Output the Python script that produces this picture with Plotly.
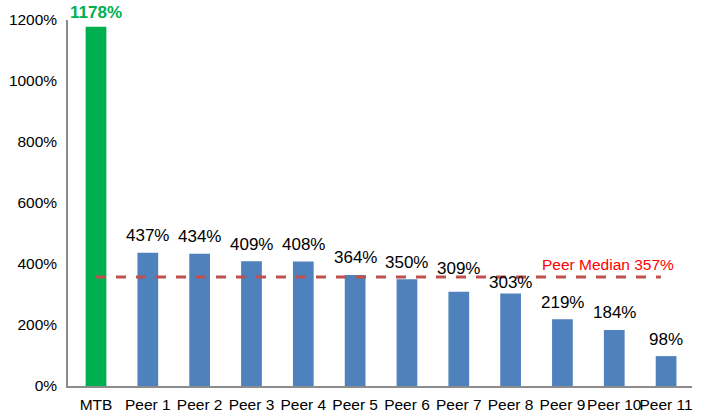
import plotly.graph_objects as go

categories = ["MTB", "Peer 1", "Peer 2", "Peer 3", "Peer 4", "Peer 5", "Peer 6",
              "Peer 7", "Peer 8", "Peer 9", "Peer 10", "Peer 11"]
values = [1178, 437, 434, 409, 408, 364, 350, 309, 303, 219, 184, 98]
peer_median = 357
tick_vals = [0, 200, 400, 600, 800, 1000, 1200]
tick_text = ["0%", "200%", "400%", "600%", "800%", "1000%", "1200%"]

GREEN = "#00B050"
BLUE = "#4F81BD"
colors = [GREEN] + [BLUE] * (len(categories) - 1)
label_extra_shift = {"Peer 7": 6, "Peer 8": -6}

fig = go.Figure()
fig.add_trace(go.Bar(x=categories, y=values, marker=dict(color=colors, line=dict(width=0)),
                     hoverinfo="skip"))

for c, v in zip(categories, values):
    is_mtb = c == "MTB"
    fig.add_annotation(
        x=c, y=v, xref="x", yref="y", text=f"{v}%", showarrow=False,
        yanchor="middle", yshift=(14 if is_mtb else 17) + label_extra_shift.get(c, 0),
        font=dict(family="Liberation Sans, Arial", size=17,
                  color=GREEN if is_mtb else "#000000",
                  weight="bold" if is_mtb else "normal"),
    )

fig.add_shape(type="line", xref="x", yref="y", x0=0, x1=10.9, y0=peer_median, y1=peer_median,
              line=dict(color="#C0504D", width=3, dash="10px,10px"))
fig.add_annotation(x=11, y=peer_median, xref="x", yref="y", text=f"Peer Median {peer_median}%",
                   showarrow=False, xanchor="right", yanchor="middle", xshift=10, yshift=13,
                   font=dict(family="Liberation Sans, Arial", size=15.5, color="#FF0000"))

fig.update_layout(
    width=711, height=416, margin=dict(l=68, r=19, t=20, b=30),
    plot_bgcolor="white", paper_bgcolor="white", showlegend=False,
    bargap=0.6,
    font=dict(family="Liberation Sans, Arial", size=16, color="#000000"),
)
fig.update_yaxes(range=[0, 1200], tickvals=tick_vals, ticktext=tick_text, showgrid=False,
                 showline=True, linecolor="#8C8C8C", linewidth=1.5, ticks="", zeroline=False,
                 ticklabelstandoff=6, automargin=False, tickfont=dict(size=15.5))
fig.update_xaxes(showgrid=False, showline=True, linecolor="#8C8C8C", linewidth=1.5, ticks="",
                 tickfont=dict(size=15.5), tickangle=0, automargin=False, ticklabelstandoff=4)

fig.write_html("out.html")
